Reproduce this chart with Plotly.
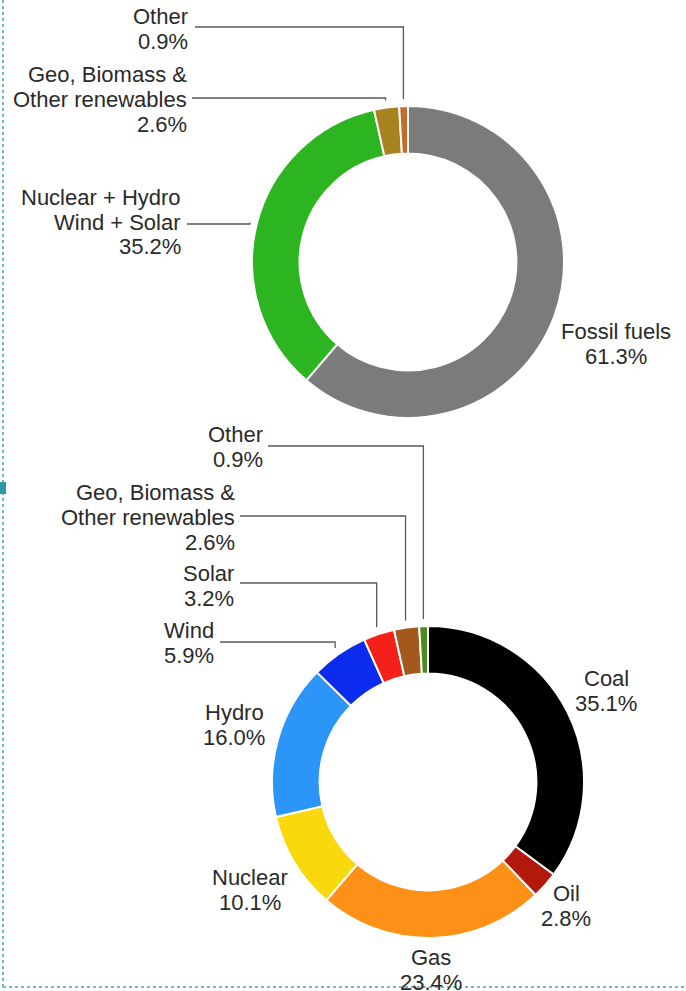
# two donut charts: grouped sources on top, detailed breakdown below
import math
import plotly.graph_objects as go

W, H = 686, 991

# ---- data ----
top_labels = ["Fossil fuels", "Nuclear + Hydro<br>Wind + Solar",
              "Geo, Biomass &<br>Other renewables", "Other"]
top_values = [61.3, 35.2, 2.6, 0.9]
top_colors = ["#7b7b7b", "#2db521", "#a8821f", "#c46c28"]

bottom_labels = ["Coal", "Oil", "Gas", "Nuclear", "Hydro", "Wind", "Solar",
                 "Geo, Biomass &<br>Other renewables", "Other"]
bottom_values = [35.1, 2.8, 23.4, 10.1, 16.0, 5.9, 3.2, 2.6, 0.9]
bottom_colors = ["#000000", "#b3180d", "#fd9016", "#f9d90e", "#2b95f8",
                 "#0b2bef", "#f4211b", "#a3591b", "#4b8b1d"]

# ---- layout (pixels) ----
FONT = "Liberation Sans, Arial, sans-serif"
FS = 22
LINE = 25
TEXT_COLOR = "#2a2a2a"
LEAD_COLOR = "#5a5a5a"
HOLE = 0.695
GAP = 7

top_geo = dict(cx=408, cy=262, r=156)
bottom_geo = dict(cx=428, cy=782, r=156)

# label placement: (x, y of first line, anchor, leader y or None, leader start x)
top_pos = [
    (616, 331, "center", None, None),
    (183, 197, "right", 224, 187),
    (189, 75, "right", 98, 192),
    (190, 17, "right", 27, 195),
]
bottom_pos = [
    (606, 678, "center", None, None),
    (566, 893, "center", None, None),
    (431, 957, "center", None, None),
    (250, 877, "center", None, None),
    (234, 712, "center", None, None),
    (216, 630, "right", 642, 220),
    (236, 573, "right", 583, 240),
    (237, 492, "right", 516, 240),
    (265, 434, "right", 446, 268),
]


def px(x):
    return x / W


def py(y):
    return 1 - y / H


fig = go.Figure()
annotations = []
shapes = []


def add_donut(labels, values, colors, geo, pos):
    cx, cy, r = geo["cx"], geo["cy"], geo["r"]
    fig.add_trace(go.Pie(
        labels=[l.replace("<br>", " ") for l in labels],
        values=values,
        marker=dict(colors=colors, line=dict(color="white", width=2)),
        hole=HOLE,
        sort=False,
        direction="clockwise",
        rotation=0,
        textinfo="none",
        hoverinfo="label+percent",
        showlegend=False,
        domain=dict(x=[px(cx - r), px(cx + r)], y=[py(cy + r), py(cy - r)]),
    ))
    total = sum(values)
    cum = 0
    for lab, val, (lx, ly, anchor, lead_y, lead_x) in zip(labels, values, pos):
        lines = lab.split("<br>") + [f"{val:.1f}%"]
        for i, txt in enumerate(lines):
            annotations.append(dict(
                x=px(lx), y=py(ly + i * LINE), xref="paper", yref="paper",
                text=txt, showarrow=False, xanchor=anchor, yanchor="middle",
                font=dict(family=FONT, size=FS, color=TEXT_COLOR),
            ))
        if lead_y is not None:
            theta = 2 * math.pi * (cum + val / 2) / total
            sx = cx + (r + GAP) * math.sin(theta)
            sy = cy - (r + GAP) * math.cos(theta)
            path = f"M {px(lead_x)} {py(lead_y)} L {px(sx)} {py(lead_y)} L {px(sx)} {py(sy)}"
            shapes.append(dict(type="path", path=path, xref="paper", yref="paper",
                               line=dict(color=LEAD_COLOR, width=1.3)))
        cum += val


add_donut(top_labels, top_values, top_colors, top_geo, top_pos)
add_donut(bottom_labels, bottom_values, bottom_colors, bottom_geo, bottom_pos)

# dotted selection frame along the left and bottom edges
frame = dict(color="#6cbcc4", width=2, dash="dot")
shapes.append(dict(type="line", xref="paper", yref="paper",
                   x0=px(3), x1=px(3), y0=py(0), y1=py(987), line=frame))
shapes.append(dict(type="line", xref="paper", yref="paper",
                   x0=px(3), x1=px(W), y0=py(987), y1=py(987), line=frame))
shapes.append(dict(type="rect", xref="paper", yref="paper",
                   x0=px(0), x1=px(6), y0=py(482), y1=py(494),
                   fillcolor="#2a9aa6", line=dict(width=0)))

fig.update_layout(
    width=W, height=H,
    margin=dict(l=0, r=0, t=0, b=0),
    paper_bgcolor="white",
    plot_bgcolor="white",
    annotations=annotations,
    shapes=shapes,
)

# page body has a default 8px margin; drop it so the figure fills the window
fig.write_html("out.html", config={"displayModeBar": False},
               post_script="document.body.style.margin = '0';")
